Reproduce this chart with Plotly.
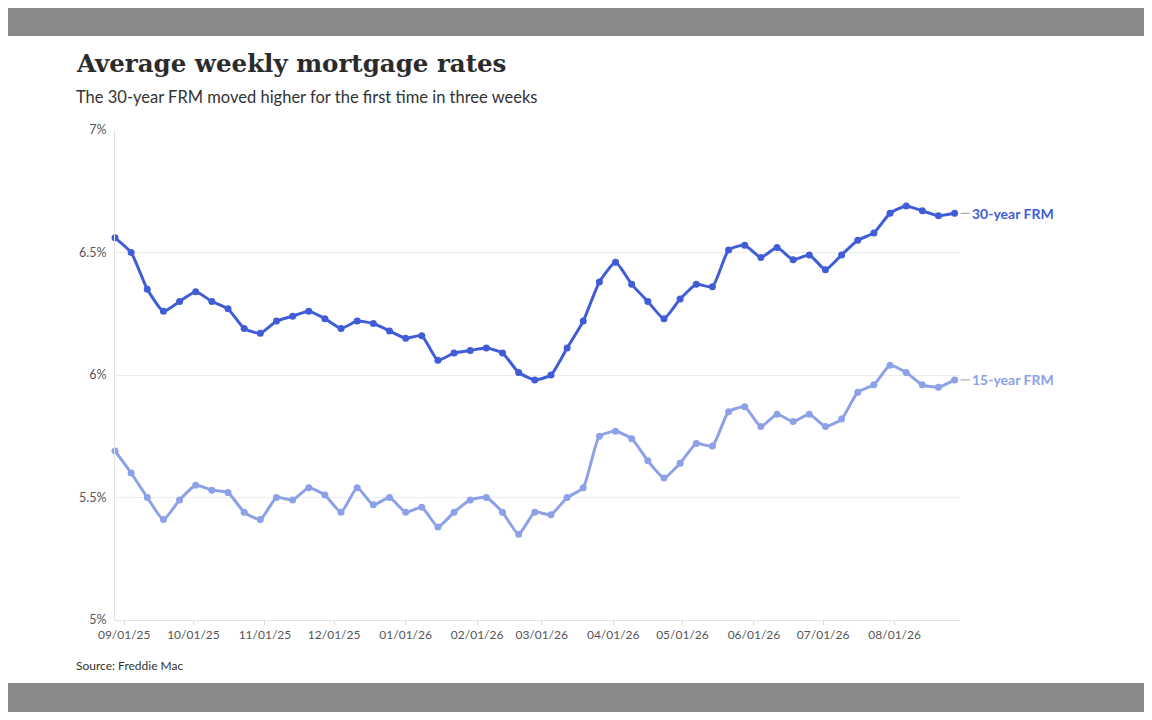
import pandas as pd
import plotly.graph_objects as go

# Weekly Freddie Mac averages
dates = pd.date_range("2025-08-28", periods=53, freq="7D")
rate_30yr = [6.56, 6.50, 6.35, 6.26, 6.30, 6.34, 6.30, 6.27, 6.19, 6.17,
             6.22, 6.24, 6.26, 6.23, 6.19, 6.22, 6.21, 6.18, 6.15, 6.16,
             6.06, 6.09, 6.10, 6.11, 6.09, 6.01, 5.98, 6.00, 6.11, 6.22,
             6.38, 6.46, 6.37, 6.30, 6.23, 6.31, 6.37, 6.36, 6.51, 6.53,
             6.48, 6.52, 6.47, 6.49, 6.43, 6.49, 6.55, 6.58, 6.66, 6.69,
             6.67, 6.65, 6.66]
rate_15yr = [5.69, 5.60, 5.50, 5.41, 5.49, 5.55, 5.53, 5.52, 5.44, 5.41,
             5.50, 5.49, 5.54, 5.51, 5.44, 5.54, 5.47, 5.50, 5.44, 5.46,
             5.38, 5.44, 5.49, 5.50, 5.44, 5.35, 5.44, 5.43, 5.50, 5.54,
             5.75, 5.77, 5.74, 5.65, 5.58, 5.64, 5.72, 5.71, 5.85, 5.87,
             5.79, 5.84, 5.81, 5.84, 5.79, 5.82, 5.93, 5.96, 6.04, 6.01,
             5.96, 5.95, 5.98]

y_ticks = [5, 5.5, 6, 6.5, 7]
y_tick_labels = ["5%", "5.5%", "6%", "6.5%", "7%"]
x_ticks = pd.date_range("2025-09-01", "2026-08-01", freq="MS")

DARK = "#3f5dd6"
LIGHT = "#8da1e7"
FONT = "Lato"

# the page puts the figure 8px in from the top-left corner
OFF = 8
W, H = 1152 - 2 * OFF, 720 - 2 * OFF
L, R, T, B = 115 - OFF, W - (960 - OFF), 130 - OFF, H - (620 - OFF)


def px(x, y):
    # page pixel -> paper coords
    x, y = x - OFF, y - OFF
    return (x - L) / (W - L - R), (H - B - y) / (H - T - B)


fig = go.Figure()
for name, vals, color in [("15-year FRM", rate_15yr, LIGHT),
                          ("30-year FRM", rate_30yr, DARK)]:
    fig.add_trace(go.Scatter(
        x=dates, y=vals, mode="lines+markers", name=name,
        line=dict(color=color, width=3, shape="spline", smoothing=0.5),
        marker=dict(color=color, size=7), cliponaxis=False))
    fig.add_annotation(
        x=dates[-1], y=vals[-1], text=f"<b>{name}</b>",
        showarrow=True, arrowhead=0, arrowwidth=1, arrowcolor="#999999",
        ax=15, ay=0, standoff=6, xanchor="left",
        font=dict(family=FONT, size=14, color=color))

# page frame: gray strips above and below the white card
for y0, y1 in [(0, 36), (683, 720)]:
    a = px(0, y0)
    b = px(1152, y1)
    fig.add_shape(type="rect", xref="paper", yref="paper",
                  x0=a[0], x1=b[0], y0=a[1], y1=b[1],
                  fillcolor="#898989", line_width=0, layer="below")

# annotation boxes carry ~3px of padding, so aim a little left
tx, ty = px(74, 64)
fig.add_annotation(xref="paper", yref="paper", x=tx, y=ty, xanchor="left", yanchor="middle",
                   text="<b>Average weekly mortgage rates</b>", showarrow=False,
                   font=dict(family="DejaVu Serif", size=24.5, color="#2b2b2b"))
sx, sy = px(74, 97)
fig.add_annotation(xref="paper", yref="paper", x=sx, y=sy, xanchor="left", yanchor="middle",
                   text="The 30-year FRM moved higher for the first time in three weeks",
                   showarrow=False, font=dict(family=FONT, size=16.5, color="#333333"))
cx, cy = px(74, 665)
fig.add_annotation(xref="paper", yref="paper", x=cx, y=cy, xanchor="left", yanchor="middle",
                   text="Source: Freddie Mac", showarrow=False,
                   font=dict(family=FONT, size=12, color="#333333"))

fig.update_xaxes(
    type="date", range=["2025-08-28", "2026-08-29 08:00"],
    tickvals=x_ticks, tickformat="%m/%d/%y",
    ticks="outside", ticklen=4, tickcolor="#dddddd",
    showgrid=False, showline=True, linecolor="#e3e3e3", zeroline=False,
    tickfont=dict(family=FONT, size=12, color="#555555"))
fig.update_yaxes(
    range=[5, 7], tickvals=y_ticks, ticktext=y_tick_labels,
    ticks="outside", ticklen=5, tickcolor="rgba(0,0,0,0)",
    showgrid=True, gridcolor="#ececec", gridwidth=1,
    showline=True, linecolor="#e3e3e3", zeroline=False,
    tickfont=dict(family=FONT, size=12.5, color="#555555"))

fig.update_layout(
    width=W, height=H, margin=dict(l=L, r=R, t=T, b=B),
    paper_bgcolor="white", plot_bgcolor="white",
    showlegend=False, hovermode=False)

fig.write_html("out.html")
